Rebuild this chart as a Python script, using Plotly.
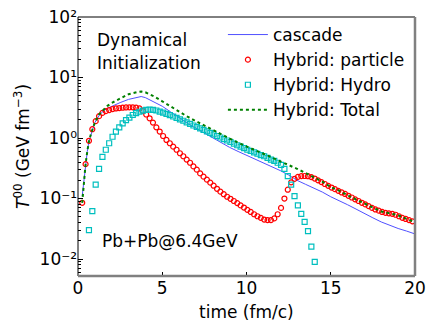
import plotly.graph_objects as go

# marker series share one time grid (fm/c)
t_pts = [round(0.25 + 0.2 * k, 2) for k in range(99)]

particle = [
    0.085, 0.37, 0.9, 1.4, 1.9, 2.3, 2.6, 2.78, 2.9, 3.0,
    3.08, 3.13, 3.17, 3.2, 3.22, 3.22, 3.18, 3.08, 2.8, 2.45,
    2.12, 1.8, 1.5, 1.28, 1.08, 0.93, 0.82, 0.72, 0.64, 0.56,
    0.5, 0.44, 0.39, 0.34, 0.3, 0.26, 0.23, 0.205, 0.183, 0.163,
    0.145, 0.13, 0.118, 0.107, 0.099, 0.091, 0.084, 0.077, 0.071, 0.065,
    0.06, 0.055, 0.051, 0.048, 0.045, 0.044, 0.044, 0.047, 0.055, 0.07,
    0.1, 0.14, 0.185, 0.212, 0.228, 0.235, 0.236, 0.234, 0.226, 0.214,
    0.2, 0.187, 0.174, 0.162, 0.152, 0.143, 0.134, 0.126, 0.119, 0.111,
    0.104, 0.097, 0.091, 0.085, 0.08, 0.075, 0.07, 0.066, 0.063, 0.06,
    0.058, 0.057, 0.056, 0.054, 0.051, 0.048, 0.046, 0.044, 0.042,
]

hydro_t = t_pts[2:70]
hydro = [
    0.03, 0.062, 0.17, 0.31, 0.49, 0.64, 0.82, 1.05, 1.28, 1.5,
    1.74, 1.98, 2.18, 2.4, 2.58, 2.72, 2.84, 2.92, 2.95, 2.92,
    2.85, 2.74, 2.62, 2.5, 2.39, 2.27, 2.15, 2.04, 1.93, 1.82,
    1.71, 1.61, 1.53, 1.44, 1.36, 1.29, 1.22, 1.15, 1.08, 1.02,
    0.96, 0.91, 0.86, 0.81, 0.76, 0.72, 0.68, 0.64, 0.61, 0.58,
    0.55, 0.52, 0.5, 0.47, 0.44, 0.42, 0.39, 0.36, 0.31, 0.235,
    0.17, 0.11, 0.077, 0.056, 0.041, 0.029, 0.016, 0.009,
]

# line series
t_line = [0.25, 0.35, 0.45, 0.55, 0.65, 0.8, 1.0, 1.25, 1.5, 1.75, 2.0, 2.5,
          3.0, 3.5, 3.75, 4.0, 4.5, 5.0, 5.5, 6.0, 6.5, 7.0, 7.5, 8.0, 8.5,
          9.0, 9.5, 10.0, 10.5, 11.0, 11.5, 12.0, 12.5, 13.0, 13.5, 14.0,
          14.5, 15.0, 15.5, 16.0, 16.5, 17.0, 17.5, 18.0, 18.5, 19.0, 19.5,
          20.0]

cascade = [
    0.11, 0.2, 0.37, 0.6, 0.88, 1.25, 1.8, 2.35, 2.8, 3.1, 3.35, 3.85,
    4.35, 4.75, 4.85, 4.65, 4.0, 3.35, 2.7, 2.15, 1.75, 1.45, 1.2, 0.99,
    0.82, 0.7, 0.6, 0.52, 0.45, 0.39, 0.34, 0.29, 0.245, 0.2, 0.172, 0.15,
    0.128, 0.107, 0.093, 0.079, 0.067, 0.056, 0.048, 0.041, 0.036, 0.032,
    0.029, 0.026,
]

total = [
    0.085, 0.2, 0.37, 0.6, 0.88, 1.25, 1.8, 2.45, 2.95, 3.4, 3.8, 4.5,
    5.3, 5.75, 5.85, 5.7, 4.9, 4.05, 3.3, 2.7, 2.25, 1.9, 1.6, 1.35,
    1.15, 0.98, 0.84, 0.72, 0.63, 0.55, 0.48, 0.41, 0.36, 0.31, 0.265,
    0.225, 0.19, 0.155, 0.135, 0.113, 0.097, 0.082, 0.07, 0.061, 0.057,
    0.053, 0.046, 0.041,
]

y_ticks = [1e-2, 1e-1, 1e0, 1e1, 1e2]
y_ticktext = ["10⁻²", "10⁻¹", "10⁰", "10¹", "10²"]
x_ticks = [0, 5, 10, 15, 20]

font = dict(family="DejaVu Sans", size=17, color="black")

fig = go.Figure()
fig.add_trace(go.Scatter(
    x=t_line, y=cascade, name="cascade", mode="lines",
    line=dict(color="#5050ff", width=1),
))
fig.add_trace(go.Scatter(
    x=t_pts, y=particle, name="Hybrid: particle", mode="markers",
    marker=dict(symbol="circle-open", size=5, color="#ff0000",
                line=dict(width=1.2, color="#ff0000")),
))
fig.add_trace(go.Scatter(
    x=hydro_t, y=hydro, name="Hybrid: Hydro", mode="markers",
    marker=dict(symbol="square-open", size=5, color="#00bfbf",
                line=dict(width=1.2, color="#00bfbf")),
))
fig.add_trace(go.Scatter(
    x=t_line, y=total, name="Hybrid: Total", mode="lines",
    line=dict(color="#008000", width=2, dash="dot"),
))

minor_vals = [m * 10.0 ** e for e in range(-3, 2) for m in range(2, 10)]

fig.update_xaxes(
    range=[0, 20], tickvals=x_ticks, ticks="inside", ticklen=4,
    tickcolor="black", showgrid=False, zeroline=False, showline=False,
    tickfont=font, automargin=False, ticklabeloverflow="allow",
)
fig.update_yaxes(
    type="log", range=[-2.28, 2], tickvals=y_ticks, ticktext=y_ticktext,
    ticks="inside", ticklen=5, tickcolor="black", showgrid=False,
    zeroline=False, showline=False, tickfont=font, automargin=False,
    ticklabeloverflow="allow",
    minor=dict(tickvals=minor_vals, ticks="inside", ticklen=2.5,
               tickcolor="black", showgrid=False),
)

# frame: thin dark top/left, thicker grey bottom/right
frame = [
    (0, 1, 1, 1, "black", 1),
    (0, 0, 0, 1, "black", 1),
    (0, 0, 1, 0, "#808080", 2.5),
    (1, 0, 1, 1, "#808080", 2.5),
]
for x0, y0, x1, y1, c, w in frame:
    fig.add_shape(type="line", xref="paper", yref="paper",
                  x0=x0, y0=y0, x1=x1, y1=y1, line=dict(color=c, width=w))

fig.add_annotation(text="Dynamical", x=0.05, y=0.911, xref="paper",
                   yref="paper", xanchor="left", yanchor="middle",
                   showarrow=False, font=font)
fig.add_annotation(text="Initialization", x=0.05, y=0.822, xref="paper",
                   yref="paper", xanchor="left", yanchor="middle",
                   showarrow=False, font=font)
fig.add_annotation(text="Pb+Pb@6.4GeV", x=0.065, y=0.135, xref="paper",
                   yref="paper", xanchor="left", yanchor="middle",
                   showarrow=False, font=font)
fig.add_annotation(text="time (fm/c)", x=0.5, y=-0.14, xref="paper",
                   yref="paper", xanchor="center", yanchor="middle",
                   showarrow=False, font=font)
fig.add_annotation(text="<i>T</i><sup>00</sup> (GeV fm<sup>−3</sup>)",
                   x=-0.168, y=0.5, xref="paper", yref="paper",
                   xanchor="center", yanchor="middle", textangle=-90,
                   showarrow=False, font=font)

# page body adds an 8px offset, so the figure is 8px smaller on each axis
fig.update_layout(
    width=428, height=319,
    margin=dict(l=70, r=21, t=9, b=51),
    paper_bgcolor="white", plot_bgcolor="white",
    font=font,
    showlegend=True,
    legend=dict(x=0.43, y=1.0, xanchor="left", yanchor="top",
                bgcolor="rgba(0,0,0,0)", font=font, tracegroupgap=0,
                itemwidth=40),
)

fig.write_html("out.html")
